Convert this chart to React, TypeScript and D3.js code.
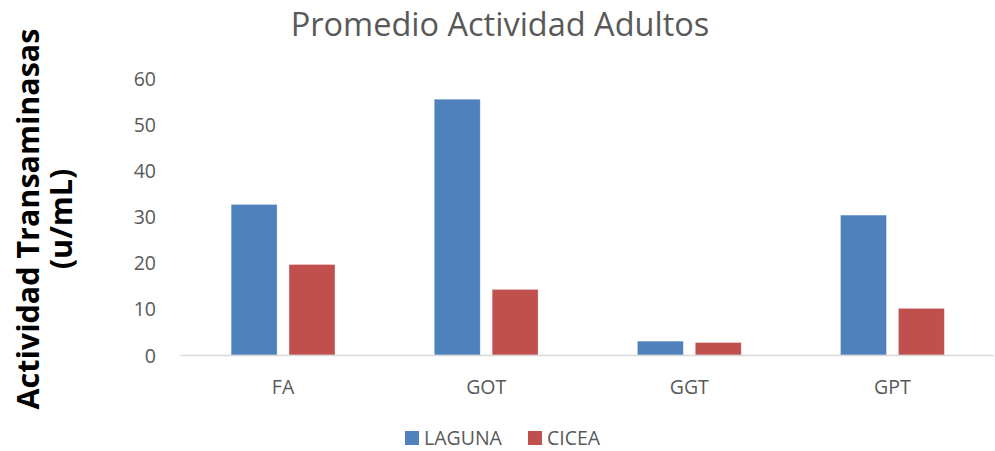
import React, { useRef, useEffect } from 'react';
import * as d3 from 'd3';

const categories = ['FA', 'GOT', 'GGT', 'GPT'];
const seriesNames = ['LAGUNA', 'CICEA'];
const laguna = [32.6, 55.4, 3.0, 30.3];
const cicea = [19.6, 14.2, 2.7, 10.1];
const yTicks = [0, 10, 20, 30, 40, 50, 60];
const colors = ['#4f81bd', '#c0504d'];

const W = 995;
const H = 451;

const App = () => {
  const ref = useRef<SVGSVGElement>(null);

  useEffect(() => {
    if (!ref.current) return;
    const svg = d3.select(ref.current);
    svg.selectAll('*').remove();

    const font = '"Open Sans", sans-serif';
    const left = 181.5, right = 994, top = 78, bottom = 355;

    const x = d3.scaleBand().domain(categories).range([left, right]).padding(0);
    const y = d3.scaleLinear().domain([0, 60]).range([bottom, top]);

    const step = x.bandwidth();
    const barW = step * 0.226;
    const innerGap = step * 0.059;

    // title
    svg.append('text')
      .attr('x', 500).attr('y', 36)
      .attr('text-anchor', 'middle')
      .attr('font-family', font).attr('font-size', 32.5)
      .attr('fill', '#595959')
      .text('Promedio Actividad Adultos');

    // y axis title
    const yt = svg.append('text')
      .attr('transform', 'translate(0,219) rotate(-90)')
      .attr('text-anchor', 'middle')
      .attr('font-family', font).attr('font-weight', 'bold').attr('font-size', 30.5)
      .attr('fill', '#000');
    yt.append('tspan').attr('x', 0).attr('y', 39).text('Actividad Transaminasas');
    yt.append('tspan').attr('x', 0).attr('y', 72).text('(u/mL)');

    // y tick labels
    svg.append('g').selectAll('text')
      .data(yTicks)
      .join('text')
      .attr('x', 156).attr('y', d => y(d) + 7.5)
      .attr('text-anchor', 'end')
      .attr('font-family', font).attr('font-size', 19.5)
      .attr('fill', '#595959')
      .text(d => d);

    // bars
    const rows = categories.map((c, i) => ({ c, vals: [laguna[i], cicea[i]] }));
    rows.forEach(r => {
      const cx = (x(r.c) as number) + step / 2;
      r.vals.forEach((v, s) => {
        const bx = s === 0 ? cx - innerGap / 2 - barW : cx + innerGap / 2;
        svg.append('rect')
          .attr('x', bx).attr('y', y(v))
          .attr('width', barW).attr('height', y(0) - y(v))
          .attr('fill', colors[s])
          .attr('stroke', '#ffffff').attr('stroke-opacity', 0.35).attr('stroke-width', 0.75);
      });
    });

    // x axis line
    svg.append('line')
      .attr('x1', left - 1).attr('x2', right)
      .attr('y1', y(0) + 0.5).attr('y2', y(0) + 0.5)
      .attr('stroke', '#d9d9d9').attr('stroke-width', 1.5);

    // category labels
    svg.append('g').selectAll('text')
      .data(categories)
      .join('text')
      .attr('x', d => (x(d) as number) + step / 2)
      .attr('y', 394)
      .attr('text-anchor', 'middle')
      .attr('font-family', font).attr('font-size', 19.5)
      .attr('fill', '#595959')
      .text(d => d);

    // legend
    const legX = [405, 528];
    seriesNames.forEach((n, i) => {
      svg.append('rect')
        .attr('x', legX[i]).attr('y', 431)
        .attr('width', 14).attr('height', 14)
        .attr('fill', colors[i]);
      svg.append('text')
        .attr('x', legX[i] + 19).attr('y', 445)
        .attr('font-family', font).attr('font-size', 19.5)
        .attr('fill', '#595959')
        .text(n);
    });
  }, []);

  return (
    <svg ref={ref} width={W} height={H} style={{ position: 'absolute', left: 0, top: 0, background: '#fff' }} />
  );
};

export default App;
